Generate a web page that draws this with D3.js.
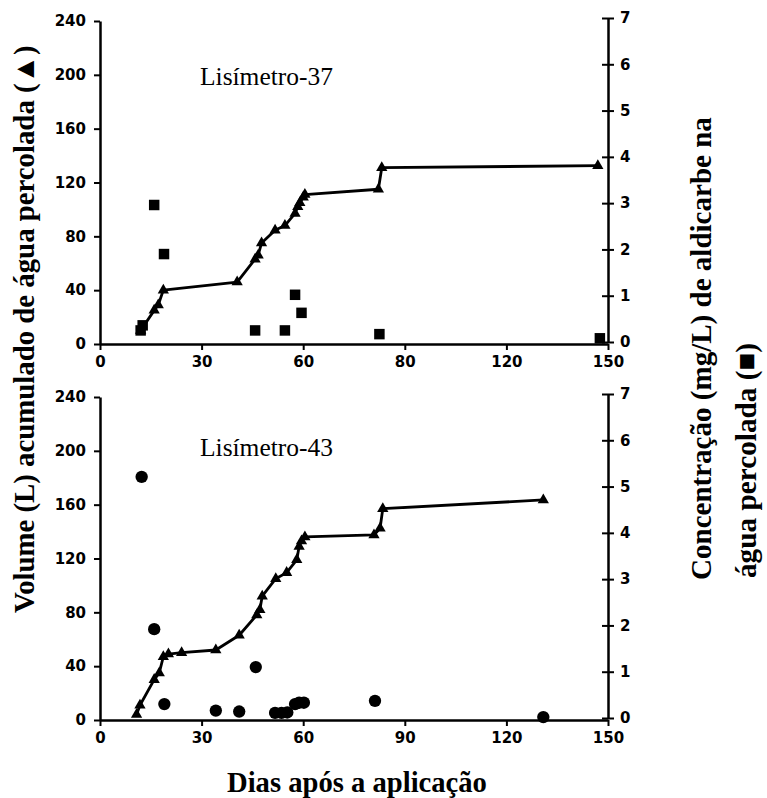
<!DOCTYPE html>
<html>
<head>
<meta charset="utf-8">
<script src="https://cdn.jsdelivr.net/npm/d3@7"></script>
<style>
  body { margin: 0; background: #fff; }
  svg { display: block; }
  .tick text { font-family: "DejaVu Sans", sans-serif; font-weight: bold; font-size: 15px; fill: #000; }
  .title { font-family: "Liberation Serif", "Times New Roman", serif; font-weight: bold; font-size: 28px; fill: #000; }
  .panel-name { font-family: "Liberation Serif", "Times New Roman", serif; font-size: 26px; fill: #000; }
</style>
</head>
<body>
<svg id="chart" width="767" height="798"></svg>
<script>
// Lisimetro chart - cumulative percolated water and aldicarb concentration

// x axis ticks (days after application)
const dayTicks = [0, 30, 60, 90, 120, 150];
const dayLabelsTop = ['0', '30', '60', '80', '120', '150'];
const dayLabelsBottom = ['0', '30', '60', '90', '120', '150'];
const volTicks = [0, 40, 80, 120, 160, 200, 240];
const concTicks = [0, 1, 2, 3, 4, 5, 6, 7];

// Lisimetro-37 : cumulative volume (L) and concentration (mg/L)
const days37 = [12, 16, 17.2, 18.7, 40.5, 45.8, 46.7, 47.7, 51.7, 54.6, 57.6, 58.4, 59, 60, 60.5, 82.2, 83.2, 147];
const vol37 = [10, 25, 29, 40, 46, 63, 66, 75, 84.5, 88, 97, 102, 105, 109, 111, 115, 131, 132.5];
const concDays37 = [12, 12.6, 16, 18.9, 45.8, 54.6, 57.6, 59.5, 82.5, 147.6];
const conc37 = [0.25, 0.36, 2.96, 1.9, 0.25, 0.25, 1.02, 0.63, 0.17, 0.08];

// Lisimetro-43
const days43 = [10.8, 11.8, 16, 17.5, 18.7, 20.2, 24.1, 34.2, 41.1, 46.3, 47.2, 47.9, 51.9, 55.1, 58.1, 58.8, 59.5, 60.5, 80.9, 82.7, 83.5, 130.9];
const vol43 = [4, 11, 30, 35, 47, 49, 50, 52, 63, 78, 82, 92, 105, 109.5, 119, 129, 133, 136, 137.5, 142.5, 157, 163.5];
const concDays43 = [12.3, 16, 19, 34.2, 41.1, 46, 51.7, 53.6, 55.3, 57.6, 58.8, 60.2, 81.2, 130.9];
const conc43 = [5.21, 1.92, 0.30, 0.16, 0.14, 1.1, 0.11, 0.11, 0.12, 0.30, 0.33, 0.33, 0.37, 0.02];

const svg = d3.select('svg#chart');

const x = d3.scaleLinear().domain([0, 150]).range([100, 608]);

// scale a text's font so it covers the given length (scanned fonts differ from ours)
function fitText(sel, len) {
  var base = parseFloat(getComputedStyle(sel.node()).fontSize);
  var w = sel.node().getComputedTextLength();
  sel.style('font-size', (base * len / w).toFixed(2) + 'px');
  return sel;
}

const panels = [
  { name: 'Lisímetro-37', days: days37, vol: vol37, concDays: concDays37, conc: conc37,
    labels: dayLabelsTop, top: 21, bottom: 344, rTop: 18, rBottom: 342, nameY: 85, marker: 'square' },
  { name: 'Lisímetro-43', days: days43, vol: vol43, concDays: concDays43, conc: conc43,
    labels: dayLabelsBottom, top: 397, bottom: 720, rTop: 394, rBottom: 718, nameY: 456, marker: 'circle' }
];

panels.forEach(function (p) {
  var yL = d3.scaleLinear().domain([0, 240]).range([p.bottom, p.top]);
  var yR = d3.scaleLinear().domain([0, 7]).range([p.rBottom, p.rTop]);
  var g = svg.append('g');

  // axes
  var left = g.append('g')
    .attr('transform', 'translate(' + x(0) + ',0)')
    .call(d3.axisLeft(yL).tickValues(volTicks).tickSize(6).tickSizeOuter(0).tickPadding(8));

  var bottom = g.append('g')
    .attr('transform', 'translate(0,' + p.bottom + ')')
    .call(d3.axisBottom(x).tickValues(dayTicks).tickSize(6).tickSizeOuter(0).tickPadding(6)
      .tickFormat(function (d, i) { return p.labels[i]; }));

  var right = g.append('g')
    .attr('transform', 'translate(' + x(150) + ',0)')
    .call(d3.axisRight(yR).tickValues(concTicks).tickSize(6).tickSizeOuter(0).tickPadding(6)
      .tickFormat(d3.format('d')));
  right.selectAll('.tick').append('line').attr('x2', -6);  // ticks cross the right axis

  [left, bottom, right].forEach(function (a) {
    a.select('.domain').attr('stroke', '#000').attr('stroke-width', 2.5);
    a.selectAll('.tick line').attr('stroke', '#000').attr('stroke-width', 2);
  });

  // cumulative volume line with triangles
  var pts = p.days.map(function (d, i) { return [d, p.vol[i]]; });
  g.append('path')
    .datum(pts)
    .attr('fill', 'none')
    .attr('stroke', '#000')
    .attr('stroke-width', 2.8)
    .attr('stroke-linejoin', 'round')
    .attr('d', d3.line().x(function (d) { return x(d[0]); }).y(function (d) { return yL(d[1]); }));

  g.selectAll('path.tri')
    .data(pts)
    .enter()
    .append('path')
    .attr('class', 'tri')
    .attr('transform', function (d) { return 'translate(' + x(d[0]) + ',' + yL(d[1]) + ')'; })
    .attr('d', d3.symbol(d3.symbolTriangle, 55))
    .attr('fill', '#000');

  // concentration markers
  var cpts = p.concDays.map(function (d, i) { return [d, p.conc[i]]; });
  g.selectAll('path.conc')
    .data(cpts)
    .enter()
    .append('path')
    .attr('class', 'conc')
    .attr('transform', function (d) { return 'translate(' + x(d[0]) + ',' + yR(d[1]) + ')'; })
    .attr('d', d3.symbol(p.marker == 'square' ? d3.symbolSquare : d3.symbolCircle, p.marker == 'square' ? 110 : 120))
    .attr('fill', '#000');

  fitText(g.append('text')
    .attr('class', 'panel-name')
    .attr('x', 200)
    .attr('y', p.nameY)
    .text(p.name), 133);
});

// axis titles
fitText(svg.append('text')
  .attr('class', 'title')
  .attr('x', 227)
  .attr('y', 792)
  .text('Dias após a aplicação'), 260);

fitText(svg.append('text')
  .attr('class', 'title')
  .attr('transform', 'translate(34,613) rotate(-90)')
  .text('Volume (L) acumulado de água percolada (▲)'), 568);

fitText(svg.append('text')
  .attr('class', 'title')
  .attr('transform', 'translate(711,580) rotate(-90)')
  .text('Concentração (mg/L) de aldicarbe na'), 463);

fitText(svg.append('text')
  .attr('class', 'title')
  .attr('transform', 'translate(756,578) rotate(-90)')
  .text('água percolada (■)'), 235);
</script>
</body>
</html>
